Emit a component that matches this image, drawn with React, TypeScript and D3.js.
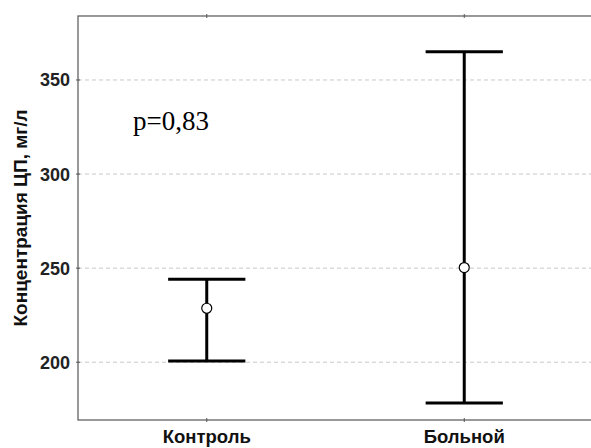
import React from 'react';
import * as d3 from 'd3';

// groups and their summary values (mean and whisker ends)
const categories = ['Контроль', 'Больной'];
const means = [228.7, 250.3];
const upper = [244.1, 365.0];
const lower = [200.7, 178.4];
const yTicks = [200, 250, 300, 350];

const W = 591;
const H = 448;
const left = 78;
const right = 593;
const top = 16;
const bottom = 420;

export default function App() {
  const x = d3.scaleLinear().domain([0.5, categories.length + 0.5]).range([left, right]);
  const y = d3.scaleLinear().domain([169.3, 384]).range([bottom, top]);
  const cap = x(1.15) - x(1);
  const sans = 'Arial, "Liberation Sans", sans-serif';

  return (
    <svg
      width={W}
      height={H}
      style={{ position: 'absolute', left: 0, top: 0, background: '#fff' }}
    >
      {/* grid */}
      {yTicks.map(t => (
        <line
          key={'g' + t}
          x1={left}
          x2={right}
          y1={y(t)}
          y2={y(t)}
          stroke="#c8c8c8"
          strokeWidth={1}
          strokeDasharray="4,3"
        />
      ))}
      {/* frame */}
      <rect
        x={left}
        y={top}
        width={right - left}
        height={bottom - top}
        fill="none"
        stroke="#555"
        strokeWidth={1.2}
      />
      {/* y ticks */}
      {yTicks.map(t => (
        <g key={'t' + t}>
          <line x1={left - 2} x2={left + 2} y1={y(t)} y2={y(t)} stroke="#555" />
          <text
            x={left - 8}
            y={y(t)}
            dy="0.36em"
            textAnchor="end"
            fontFamily={sans}
            fontWeight="bold"
            fontSize={18}
            fill="#222"
          >
            {t}
          </text>
        </g>
      ))}
      {/* category ticks and labels */}
      {categories.map((c, i) => (
        <g key={c}>
          <line x1={x(i + 1)} x2={x(i + 1)} y1={bottom - 2} y2={bottom + 2} stroke="#555" />
          <line x1={x(i + 1)} x2={x(i + 1)} y1={top - 2} y2={top + 2} stroke="#555" />
          <text
            x={x(i + 1)}
            y={443}
            textAnchor="middle"
            fontFamily={sans}
            fontWeight="bold"
            fontSize={18.5}
            fill="#111"
          >
            {c}
          </text>
        </g>
      ))}
      {/* whiskers */}
      {categories.map((c, i) => {
        const cx = x(i + 1);
        return (
          <g key={'e' + c} stroke="#000" strokeWidth={3}>
            <line x1={cx} x2={cx} y1={y(upper[i])} y2={y(lower[i])} />
            <line x1={cx - cap} x2={cx + cap} y1={y(upper[i])} y2={y(upper[i])} />
            <line x1={cx - cap} x2={cx + cap} y1={y(lower[i])} y2={y(lower[i])} />
            <circle cx={cx} cy={y(means[i])} r={5} fill="#fff" strokeWidth={1.2} />
          </g>
        );
      })}
      {/* y title */}
      <text
        transform={`translate(27,${(100 + 336) / 2}) rotate(-90)`}
        textAnchor="middle"
        fontFamily={sans}
        fontWeight="bold"
        fontSize={19}
        fill="#111"
      >
        Концентрация ЦП, мг/л
      </text>
      <text
        x={133}
        y={130}
        fontFamily='"Times New Roman", "Liberation Serif", serif'
        fontSize={27}
        fill="#000"
      >
        p=0,83
      </text>
    </svg>
  );
}
